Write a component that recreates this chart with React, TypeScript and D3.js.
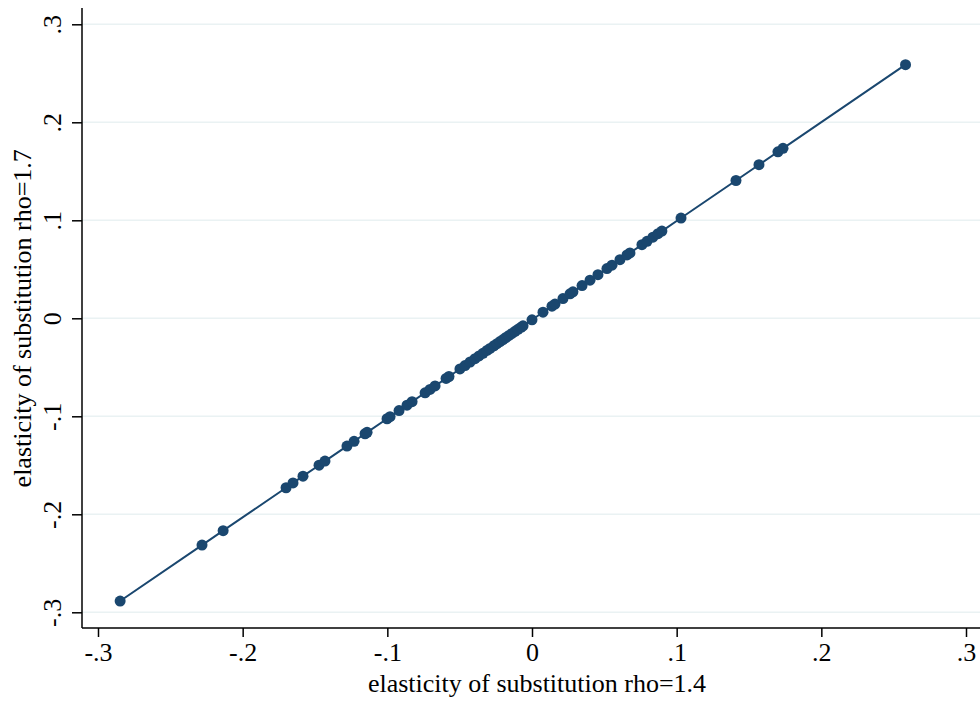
import { useEffect, useRef } from "react"
import * as d3 from "d3"

// elasticity of substitution, rho=1.4 (x) vs rho=1.7 (y)
const rho14 = [
  -0.2847, -0.2281, -0.2135, -0.17, -0.1652, -0.1583, -0.1472, -0.1431, -0.1279, -0.123, -0.1154, -0.114,
  -0.1002, -0.0981, -0.0919, -0.0864, -0.0829, -0.0739, -0.0705, -0.067, -0.0594, -0.0574, -0.0498, -0.0463,
  -0.0428, -0.0394, -0.0366, -0.0339, -0.0311, -0.029, -0.0263, -0.0242, -0.0221, -0.02, -0.018, -0.0159,
  -0.0138, -0.0117, -0.0097, -0.0076, -0.0062, 0.0, 0.0076, 0.0138, 0.0159, 0.0214, 0.0263, 0.0283, 0.0346,
  0.0401, 0.0456, 0.0518, 0.0553, 0.0608, 0.0657, 0.0677, 0.076, 0.0795, 0.0836, 0.0871, 0.0898, 0.103, 0.141,
  0.1569, 0.17, 0.1735, 0.2582,
]

const rho17 = [
  -0.2885, -0.2314, -0.2167, -0.1729, -0.168, -0.1611, -0.1499, -0.1457, -0.1304, -0.1255, -0.1178, -0.1164,
  -0.1025, -0.1004, -0.0941, -0.0886, -0.0851, -0.076, -0.0726, -0.069, -0.0614, -0.0594, -0.0517, -0.0482,
  -0.0446, -0.0412, -0.0384, -0.0357, -0.0328, -0.0307, -0.028, -0.0259, -0.0238, -0.0217, -0.0196, -0.0175,
  -0.0154, -0.0133, -0.0113, -0.0092, -0.0077, -0.0015, 0.0062, 0.0124, 0.0145, 0.0201, 0.025, 0.027, 0.0334,
  0.0389, 0.0445, 0.0507, 0.0542, 0.0598, 0.0647, 0.0667, 0.0751, 0.0786, 0.0828, 0.0863, 0.089, 0.1023, 0.1406,
  0.1567, 0.1699, 0.1734, 0.2588,
]

const xTicks = [-0.3, -0.2, -0.1, 0, 0.1, 0.2, 0.3]
const yTicks = [-0.3, -0.2, -0.1, 0, 0.1, 0.2, 0.3]

const xTitle = "elasticity of substitution rho=1.4"
const yTitle = "elasticity of substitution rho=1.7"

// stata style labels: .1, -.2, 0
const fmt = (v: number) => {
  if (Math.abs(v) < 1e-9) return "0"
  const s = v.toFixed(1)
  return s.replace(/^(-?)0\./, "$1.")
}

export default function App() {
  const svgRef = useRef<SVGSVGElement>(null)

  useEffect(() => {
    if (!svgRef.current) return

    const width = 980
    const height = 703
    const color = "#1a476f"
    const font = "'Liberation Serif', 'Times New Roman', serif"
    const fontSize = "26px"

    const svg = d3.select(svgRef.current)
    svg.selectAll("*").remove()
    svg.attr("width", width).attr("height", height)

    svg.append("rect").attr("width", width).attr("height", height).attr("fill", "#ffffff")

    const x = d3.scaleLinear().domain([-0.3, 0.3]).range([98, 966])
    const y = d3.scaleLinear().domain([-0.3, 0.3]).range([612.3, 24.3])

    const axisX = 82
    const axisY = 628

    // gridlines
    svg
      .append("g")
      .selectAll("line")
      .data(yTicks)
      .join("line")
      .attr("x1", axisX)
      .attr("x2", width)
      .attr("y1", (d) => y(d))
      .attr("y2", (d) => y(d))
      .attr("stroke", "#eaf2f3")
      .attr("stroke-width", 1.6)

    const data = rho14.map((v, i) => ({ x: v, y: rho17[i] }))

    // connecting line
    const line = d3
      .line<{ x: number; y: number }>()
      .x((d) => x(d.x))
      .y((d) => y(d.y))

    svg
      .append("path")
      .datum(data)
      .attr("d", line)
      .attr("fill", "none")
      .attr("stroke", color)
      .attr("stroke-width", 2)

    svg
      .append("g")
      .selectAll("circle")
      .data(data)
      .join("circle")
      .attr("cx", (d) => x(d.x))
      .attr("cy", (d) => y(d.y))
      .attr("r", 5.5)
      .attr("fill", color)

    // x axis
    const gx = svg.append("g").attr("transform", `translate(0, ${axisY})`)
    gx.call(
      d3
        .axisBottom(x)
        .tickValues(xTicks)
        .tickSize(9)
        .tickSizeOuter(0)
        .tickFormat((d) => fmt(+d))
    )
    gx.select(".domain").attr("d", `M${axisX},0H${width}`).attr("stroke", "#000").attr("stroke-width", 1.5)
    gx.selectAll(".tick line").attr("stroke", "#000").attr("stroke-width", 1.5)
    gx.selectAll(".tick text")
      .attr("fill", "#000")
      .attr("font-family", font)
      .attr("font-size", fontSize)
      .attr("dy", null)
      .attr("y", 33)

    // y axis
    const gy = svg.append("g").attr("transform", `translate(${axisX}, 0)`)
    gy.call(
      d3
        .axisLeft(y)
        .tickValues(yTicks)
        .tickSize(10)
        .tickSizeOuter(0)
        .tickFormat((d) => fmt(+d))
    )
    gy.select(".domain").attr("d", `M0,8V${axisY}`).attr("stroke", "#000").attr("stroke-width", 1.5)
    gy.selectAll(".tick line").attr("stroke", "#000").attr("stroke-width", 1.5)
    gy.selectAll(".tick text")
      .attr("fill", "#000")
      .attr("font-family", font)
      .attr("font-size", fontSize)
      .attr("x", null)
      .attr("dy", null)
      .attr("text-anchor", "middle")
      .attr("transform", "translate(-21, 0) rotate(-90)")

    // axis titles
    svg
      .append("text")
      .attr("x", 537)
      .attr("y", 692)
      .attr("text-anchor", "middle")
      .attr("font-family", font)
      .attr("font-size", fontSize)
      .attr("fill", "#000")
      .text(xTitle)

    svg
      .append("text")
      .attr("transform", `translate(31, ${y(0)}) rotate(-90)`)
      .attr("text-anchor", "middle")
      .attr("font-family", font)
      .attr("font-size", fontSize)
      .attr("fill", "#000")
      .text(yTitle)
  }, [])

  return (
    <div style={{ position: "absolute", left: 0, top: 0 }}>
      <svg ref={svgRef} style={{ display: "block" }}></svg>
    </div>
  )
}
